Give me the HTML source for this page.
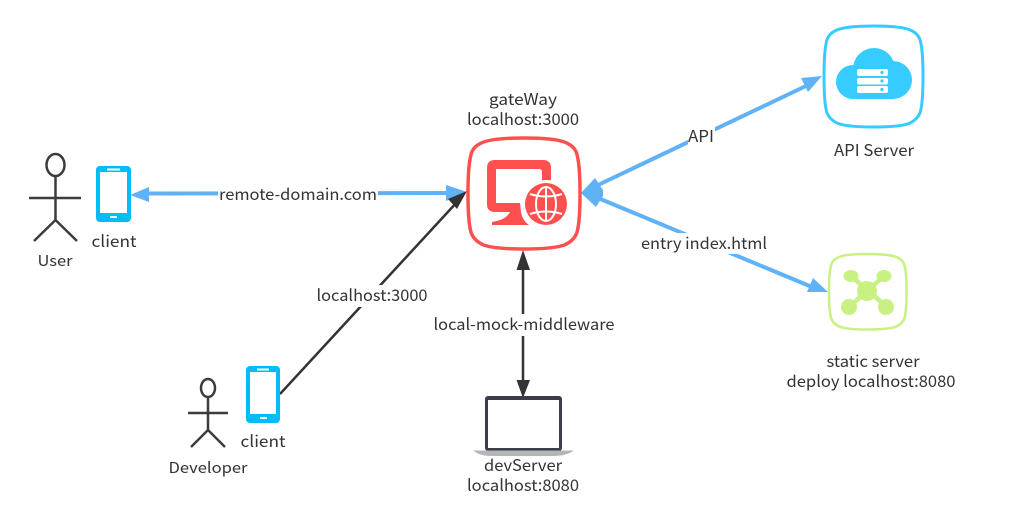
<!DOCTYPE html>
<html><head><meta charset="utf-8"><style>
html,body{margin:0;padding:0;background:#fff}
svg{display:block}
text{font-family:"Noto Sans CJK SC","Liberation Sans",sans-serif;font-size:16px;fill:#333;text-anchor:middle}
.sq{vector-effect:non-scaling-stroke;fill:#fff}
</style></head><body>
<svg width="1035" height="514" viewBox="0 0 1035 514" xmlns="http://www.w3.org/2000/svg">
<rect width="1035" height="514" fill="#fff"/>

<!-- Blue connectors -->
<g stroke="#60b2f6" stroke-width="4" fill="none">
<line x1="146" y1="193.500" x2="450" y2="193"/>
<line x1="598" y1="185" x2="808" y2="85"/>
<line x1="598" y1="198" x2="812" y2="287"/>
</g>
<g fill="#60b2f6">
<polygon points="130,195 149,187 149,202"/>
<polygon points="467,192 446,185 446,201"/>
<polygon points="581,193 595,178 603,190 603,196 596,207"/>
<polygon points="822,76 801,78 808,92"/>
<polygon points="828,292 813,278 807,292"/>
</g>

<!-- Dark connectors -->
<g stroke="#333" stroke-width="2.500" fill="none">
<line x1="280" y1="394" x2="458" y2="201"/>
<line x1="523" y1="262" x2="523" y2="384"/>
</g>
<g fill="#333">
<polygon points="467,191 457,209 448,199"/>
<polygon points="523,250 516.500,270 530,270"/>
<polygon points="523,398 516.500,380 530,380"/>
</g>

<!-- Connector labels -->
<rect x="218" y="183" width="160" height="22" fill="#fff"/>
<text x="298" y="200" textLength="158" lengthAdjust="spacingAndGlyphs">remote-domain.com</text>
<rect x="688" y="126" width="27" height="22" fill="#fff"/>
<text x="701" y="142" textLength="26" lengthAdjust="spacingAndGlyphs">API</text>
<rect x="641" y="233" width="127" height="21" fill="#fff"/>
<text x="704" y="249" textLength="126" lengthAdjust="spacingAndGlyphs">entry index.html</text>
<rect x="316" y="285" width="112" height="22" fill="#fff"/>
<text x="372" y="301" textLength="111" lengthAdjust="spacingAndGlyphs">localhost:3000</text>
<rect x="433" y="314" width="182" height="22" fill="#fff"/>
<text x="524" y="330" textLength="181" lengthAdjust="spacingAndGlyphs">local-mock-middleware</text>

<!-- Gateway -->
<path class="sq" transform="translate(468,138) scale(1.12,1.11)" stroke="#ff5050" stroke-width="3.500" d="M50 0 C68 0 80 1 87 4 C94 7 97 11 98 18 C100 28 100 40 100 50 C100 60 100 72 98 82 C97 89 93 93 87 96 C80 99 68 100 50 100 C32 100 20 99 13 96 C7 93 3 89 2 82 C0 72 0 60 0 50 C0 40 0 28 2 18 C3 11 6 7 13 4 C20 1 32 0 50 0Z"/>
<path d="M487 168 Q487 160 495 160 L543 160 Q551 160 551 168 L551 180 L542 184 L542 172 Q542 169 539 169 L496 169 L496 203 L520 203 L521 212 Q522 220 529 225 L492 225 L492 222 Q506 220 510 212 L495 212 Q487 212 487 204Z" fill="#ff5050"/>
<circle cx="546" cy="204" r="24" fill="#fff"/>
<circle cx="546" cy="204" r="21" fill="#ff5050"/>
<g stroke="#fff" stroke-width="2" fill="none">
<ellipse cx="546" cy="204" rx="10" ry="17"/>
<line x1="546" y1="187" x2="546" y2="221"/>
<path d="M530 194 Q546 199 562 194"/>
<path d="M530 214 Q546 209 562 214"/>
</g>
<text x="523" y="105" textLength="68" lengthAdjust="spacingAndGlyphs">gateWay</text>
<text x="523" y="125" textLength="112" lengthAdjust="spacingAndGlyphs">localhost:3000</text>

<!-- API server -->
<path class="sq" transform="translate(824,26) scale(0.99,1.01)" stroke="#36ccff" stroke-width="3" d="M50 0 C68 0 80 1 87 4 C94 7 97 11 98 18 C100 28 100 40 100 50 C100 60 100 72 98 82 C97 89 93 93 87 96 C80 99 68 100 50 100 C32 100 20 99 13 96 C7 93 3 89 2 82 C0 72 0 60 0 50 C0 40 0 28 2 18 C3 11 6 7 13 4 C20 1 32 0 50 0Z"/>
<g fill="#36ccff">
<circle cx="853" cy="82" r="17"/>
<circle cx="893" cy="80" r="19"/>
<circle cx="874" cy="69" r="21"/>
<rect x="853" y="75" width="40" height="24"/>
</g>
<g fill="#fff">
<rect x="857" y="69" width="31" height="7" rx="2"/>
<rect x="857" y="78" width="31" height="6.500" rx="2"/>
<rect x="857" y="86" width="31" height="7" rx="2"/>
</g>
<g fill="#36ccff"><circle cx="882" cy="72.500" r="1.600"/><circle cx="882" cy="81" r="1.600"/><circle cx="882" cy="89.500" r="1.600"/></g>
<text x="874" y="156" textLength="80" lengthAdjust="spacingAndGlyphs">API Server</text>

<!-- Static server -->
<path class="sq" transform="translate(829,254) scale(0.775,0.755)" stroke="#c8f082" stroke-width="2.500" d="M50 0 C68 0 80 1 87 4 C94 7 97 11 98 18 C100 28 100 40 100 50 C100 60 100 72 98 82 C97 89 93 93 87 96 C80 99 68 100 50 100 C32 100 20 99 13 96 C7 93 3 89 2 82 C0 72 0 60 0 50 C0 40 0 28 2 18 C3 11 6 7 13 4 C20 1 32 0 50 0Z"/>
<g stroke="#c8f082" stroke-width="4.500"><line x1="851" y1="276" x2="887" y2="307"/><line x1="884" y1="276" x2="849" y2="307"/></g>
<g fill="#c8f082">
<circle cx="867" cy="291" r="10"/>
<ellipse cx="851" cy="276" rx="7.500" ry="6"/>
<ellipse cx="884" cy="276" rx="7.500" ry="6"/>
<circle cx="849" cy="307" r="8"/>
<circle cx="886" cy="307" r="8"/>
</g>
<text x="873" y="367" textLength="93" lengthAdjust="spacingAndGlyphs">static server</text>
<text x="871" y="387" textLength="169" lengthAdjust="spacingAndGlyphs">deploy localhost:8080</text>

<!-- User -->
<g stroke="#3c3c3c" stroke-width="2.500" fill="none">
<ellipse cx="55.500" cy="165" rx="9" ry="11"/>
<line x1="55.500" y1="176" x2="55.500" y2="220"/>
<line x1="29" y1="198" x2="81" y2="198"/>
<line x1="34" y1="241" x2="55.500" y2="220"/>
<line x1="77" y1="241" x2="55.500" y2="220"/>
</g>
<rect x="96" y="166" width="35" height="56" rx="4" fill="#00bdf7"/>
<rect x="100" y="172" width="27" height="41" fill="#fff"/>
<rect x="107" y="168.500" width="13" height="2" fill="#fff"/>
<rect x="110" y="216" width="7" height="2" fill="#fff"/>
<text x="114" y="247" textLength="45" lengthAdjust="spacingAndGlyphs">client</text>
<text x="55" y="266" textLength="35" lengthAdjust="spacingAndGlyphs" style="font-size:15px">User</text>

<!-- Developer -->
<g stroke="#3c3c3c" stroke-width="2.500" fill="none">
<ellipse cx="208" cy="388" rx="7" ry="9"/>
<line x1="208" y1="397" x2="208" y2="430"/>
<line x1="188" y1="413" x2="228" y2="413"/>
<line x1="191" y1="447" x2="208" y2="430"/>
<line x1="225" y1="447" x2="208" y2="430"/>
</g>
<rect x="246" y="366" width="34" height="57" rx="4" fill="#00bdf7"/>
<rect x="250" y="372" width="26" height="42" fill="#fff"/>
<rect x="257" y="368.500" width="12" height="2" fill="#fff"/>
<rect x="260" y="417" width="7" height="2" fill="#fff"/>
<text x="263" y="447" textLength="45" lengthAdjust="spacingAndGlyphs">client</text>
<text x="208" y="473" textLength="79" lengthAdjust="spacingAndGlyphs" style="font-size:15px">Developer</text>

<!-- Laptop -->
<rect x="485" y="396" width="77" height="55" rx="3" fill="#3b3d4a"/>
<rect x="488" y="400" width="71" height="48" fill="#fff"/>
<path d="M473 450.500 L574 450.500 Q566 456 555 456 L490 456 Q480 456 473 450.500Z" fill="#b5b5b5"/>
<text x="523" y="471" textLength="78" lengthAdjust="spacingAndGlyphs">devServer</text>
<text x="523" y="491" textLength="112" lengthAdjust="spacingAndGlyphs">localhost:8080</text>
</svg>
</body></html>
